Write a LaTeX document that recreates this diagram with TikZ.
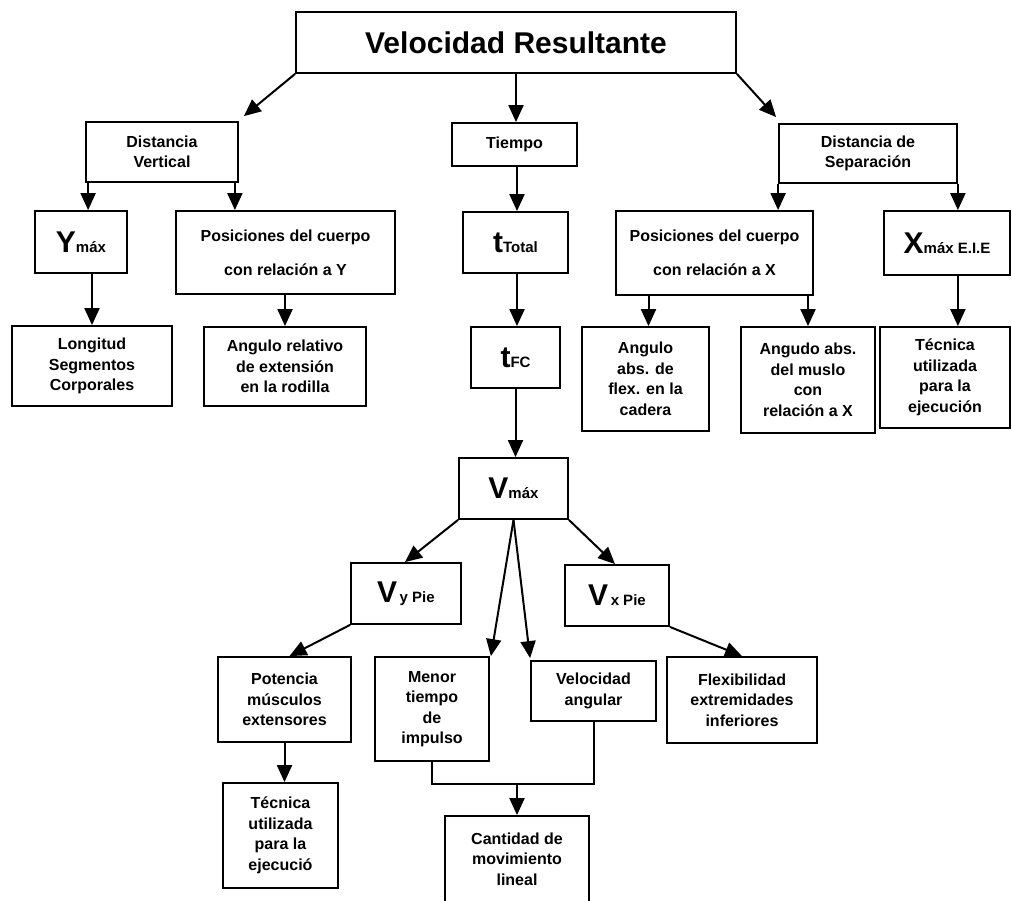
\documentclass[tikz,border=0pt]{standalone}
\usepackage{fontspec}
\setmainfont{Liberation Sans}
\usetikzlibrary{arrows.meta,calc}
\newcommand\mainsym[1]{{\fontsize{30}{30}\selectfont #1}}
\newcommand\subtxt[1]{{\fontsize{15}{15}\selectfont #1}}
\begin{document}
\begin{tikzpicture}[x=1pt,y=-1pt,
  box/.style={draw, line width=1.8pt, inner sep=0pt, align=center,
              font=\fontsize{16}{20.5}\selectfont\bfseries},
  widebox/.style={box, font=\fontsize{16}{34}\selectfont\bfseries},
  titlebox/.style={box, font=\fontsize{30}{34}\selectfont\bfseries},
  sz/.style 2 args={minimum width=#1pt, minimum height=#2pt},
  conn/.style={line width=2pt, -{Triangle[length=17pt,width=15pt]}},
  wire/.style={line width=2pt},
]
\useasboundingbox (0,0) rectangle (1012,901);
\fill[white] (0,0) rectangle (1012,901);
\clip (0,0) rectangle (1012,901);

% top level
\node[titlebox, sz={440}{61}] (title) at (516,42.5) {Velocidad Resultante};

% second level
\node[box, sz={152}{60}]  (dv)     at (162,152)   {Distancia\\Vertical};
\node[box, sz={125}{43}]  (tiempo) at (514.5,144.5) {Tiempo};
\node[box, sz={178}{59}]  (ds)     at (868,153.5) {Distancia de\\Separación};

% third level
\node[box, sz={92}{62}]   (ymax)   at (81,242)    {\mainsym{Y}\subtxt{máx}};
\node[widebox, sz={219}{83}] (posy) at (285.5,252.5) {Posiciones del cuerpo\\con relación a Y};
\node[box, sz={105}{61}]  (ttotal) at (515.5,242.5) {\mainsym{t}\subtxt{Total}};
\node[widebox, sz={197}{84}] (posx) at (714.5,253) {Posiciones del cuerpo\\con relación a X};
\node[box, sz={126}{64}]  (xmax)   at (947,243)   {\mainsym{X}\subtxt{máx E.I.E}};

% fourth level
\node[box, sz={160}{80}]  (longitud) at (92,366)    {Longitud\\Segmentos\\Corporales};
\node[box, sz={162}{79}]  (angrel)   at (285,366.5) {Angulo relativo\\de extensión\\en la rodilla};
\node[box, sz={89}{61}]   (tfc)      at (515.5,357.5) {\mainsym{t}\subtxt{FC}};
\node[box, sz={127}{104}] (angflex)  at (645.5,379)  {Angulo\\abs. de\\flex. en la\\cadera};
\node[box, sz={134}{106}] (angmus)   at (808,380)    {Angudo abs.\\del muslo\\con\\relación a X};
\node[box, sz={130}{101}] (tecx)     at (945,377.5)  {Técnica\\utilizada\\para la\\ejecución};

% velocity branch
\node[box, sz={109}{61}]  (vmax) at (513.5,488.5) {\mainsym{V}\subtxt{máx}};
\node[box, sz={110}{61}]  (vy)   at (406,593.5)   {\mainsym{V}\subtxt{\,y Pie}};
\node[box, sz={104}{61}]  (vx)   at (617,595.5)   {\mainsym{V}\subtxt{\,x Pie}};

\node[box, sz={133}{85}]  (potencia) at (284.5,699.5) {Potencia\\músculos\\extensores};
\node[box, sz={114}{104}] (menor)    at (432,709)     {Menor\\tiempo\\de\\impulso};
\node[box, sz={125}{60}]  (velang)   at (593.5,691)   {Velocidad\\angular};
\node[box, sz={150}{86}]  (flex)     at (742,700)     {Flexibilidad\\extremidades\\inferiores};
\node[box, sz={115}{105}] (tecy)     at (280.5,835.5) {Técnica\\utilizada\\para la\\ejecució};
\node[box, sz={144}{86}]  (cantidad) at (517,859)     {Cantidad de\\movimiento\\lineal};

% connectors from the title
\draw[conn] (title.south west) -- ($(dv.north east)+(5,-5)$);
\draw[conn] (title.south) -- (title.south |- tiempo.north);
\draw[conn] (title.south east) -- ($(ds.north west)+(-2,-6)$);

% distance branches
\draw[conn] ($(dv.south west)+(3,0)$) -- ($(dv.south west |- ymax.north)+(3,0)$);
\draw[conn] ($(dv.south east)+(-4,0)$) -- ($(dv.south east |- posy.north)+(-4,0)$);
\draw[conn] (ymax.south -| longitud.north) -- (longitud.north);
\draw[conn] (angrel.north |- posy.south) -- (angrel.north);

\draw[conn] (ds.south west) -- (ds.south west |- posx.north);
\draw[conn] (ds.south east) -- (ds.south east |- xmax.north);
\draw[conn] ($(angflex.north |- posx.south)+(3,0)$) -- ($(angflex.north)+(3,0)$);
\draw[conn] (angmus.north |- posx.south) -- (angmus.north);
\draw[conn] (ds.south east |- xmax.south) -- (ds.south east |- tecx.north);

% time branch
\draw[conn] ($(ttotal.north |- tiempo.south)+(1.5,0)$) -- ($(ttotal.north)+(1.5,0)$);
\draw[conn] ($(tfc.north |- ttotal.south)+(1.5,0)$) -- ($(tfc.north)+(1.5,0)$);
\draw[conn] (tfc.south) -- (tfc.south |- vmax.north);

% maximum velocity branch
\draw[conn] (vmax.south west) -- ($(vy.north)+(-1,0)$);
\draw[conn] (vmax.south east) -- ($(vx.north)+(-2,0)$);
\draw[conn] (vmax.south) -- ($(menor.north east)+(1,0)$);
\draw[conn] (vmax.south) -- ($(velang.north west)+(0,-2)$);
\draw[conn] (vy.south west) -- ($(potencia.north)+(5,0)$);
\draw[conn] (vx.south east) -- (flex.north);
\draw[conn] (potencia.south) -- (potencia.south |- tecy.north);

% joined line into the linear momentum box
\coordinate (join) at ($(cantidad.north)+(0,-31)$);
\draw[wire] (menor.south) |- (velang.south |- join) -- (velang.south);
\draw[conn] (join) -- (cantidad.north);
\end{tikzpicture}
\end{document}
